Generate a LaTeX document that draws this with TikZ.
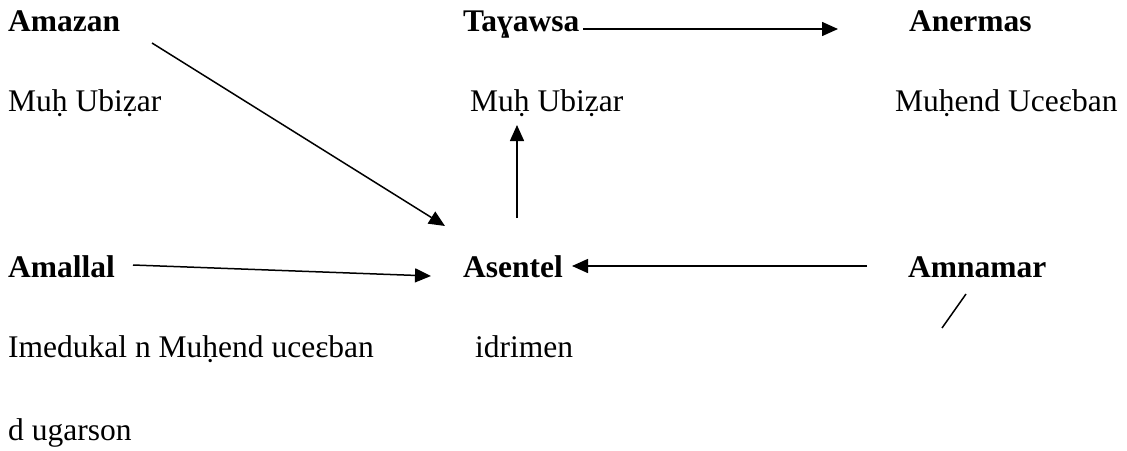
\documentclass[tikz,border=0pt]{standalone}
\usepackage{fontspec}
\setmainfont{Liberation Serif}
\usetikzlibrary{arrows.meta}
\tikzset{
  lbl/.style={anchor=base west, inner sep=0pt, font=\fontsize{31.5}{38}\selectfont},
  head/.style={lbl, font=\fontsize{31.5}{38}\selectfont\bfseries},
  link/.style={line width=1.5pt, -{Triangle[length=16pt,width=14pt]}},
  plain/.style={line width=1.5pt}
}
\begin{document}
\begin{tikzpicture}[x=1pt,y=-1pt]
  \useasboundingbox (0,0) rectangle (1127,450);
  % top row
  \node[head] (amazan)  at (8,31)   {Amazan};
  \node[lbl]  (mubA)    at (8,111)  {Muḥ Ubiẓar};
  \node[head] (tayawsa) at (463,31) {Taɣawsa};
  \node[lbl]  (mubB)    at (470,111){Muḥ Ubiẓar};
  \node[head] (anermas) at (909,31) {Anermas};
  \node[lbl]  (muhend)  at (895,111){Muḥend Uceɛban};
  % middle row
  \node[head] (amallal) at (8,277)   {Amallal};
  \node[head] (asentel) at (463,277) {Asentel};
  \node[head] (amnamar) at (908,277) {Amnamar};
  \node[lbl]  (imed)    at (8,357)   {Imedukal n Muḥend uceɛban};
  \node[lbl]  (idrimen) at (475,357) {idrimen};
  \node[lbl]  (ugars)   at (8,440)   {d ugarson};
  % connectors
  \draw[link] ([shift={(144,12)}]amazan.base west) -- ([shift={(-18,-51)}]asentel.base west);
  \draw[link] ([shift={(120,-2)}]tayawsa.base west) -- ([shift={(-71,-2)}]anermas.base west);
  \draw[link] ([shift={(54,-59)}]asentel.base west) -- ([shift={(47,14)}]mubB.base west);
  \draw[link] ([shift={(125,-12)}]amallal.base west) -- ([shift={(-32,-1)}]asentel.base west);
  \draw[link] ([shift={(-41,-11)}]amnamar.base west) -- ([shift={(109,-11)}]asentel.base west);
  \draw[plain] ([shift={(58,17)}]amnamar.base west) -- ([shift={(34,51)}]amnamar.base west);
\end{tikzpicture}
\end{document}
